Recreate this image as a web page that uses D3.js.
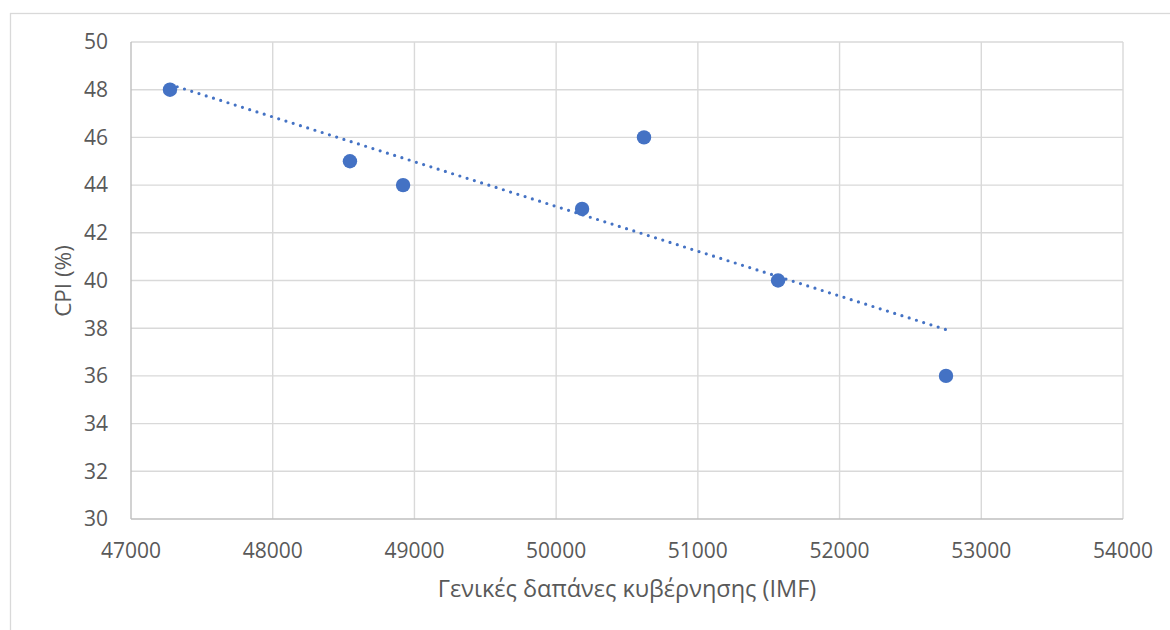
<!DOCTYPE html>
<html>
<head>
<meta charset="utf-8">
<script src="https://cdn.jsdelivr.net/npm/d3@7"></script>
<style>
  body { margin: 0; background: #fff; }
  text { font-family: "Open Sans", sans-serif; fill: #595959; }
</style>
</head>
<body>
<svg id="chart" width="1170" height="630"></svg>
<script>
// government spending (IMF) vs CPI
const spending = [47275, 48545, 48920, 50183, 50620, 51566, 52751];
const cpi = [48, 45, 44, 43, 46, 40, 36];
const xTicks = [47000, 48000, 49000, 50000, 51000, 52000, 53000, 54000];
const yTicks = [30, 32, 34, 36, 38, 40, 42, 44, 46, 48, 50];

const svg = d3.select("#chart");
const plotLeft = 131, plotRight = 1123, plotTop = 42, plotBottom = 519;

// outer chart frame
svg.append("rect")
  .attr("x", 10.5).attr("y", 13.5)
  .attr("width", 1200).attr("height", 700)
  .style("fill", "none").style("stroke", "#d9d9d9").style("stroke-width", 1.3);

const x = d3.scaleLinear().domain([47000, 54000]).range([plotLeft, plotRight]);
const y = d3.scaleLinear().domain([30, 50]).range([plotBottom, plotTop]);

// gridlines
svg.append("g").selectAll("line")
  .data(xTicks.slice(1))
  .enter().append("line")
  .attr("x1", d => x(d)).attr("x2", d => x(d))
  .attr("y1", plotTop).attr("y2", plotBottom)
  .style("stroke", "#d9d9d9").style("stroke-width", 1.4);

svg.append("g").selectAll("line")
  .data(yTicks.slice(1))
  .enter().append("line")
  .attr("x1", plotLeft).attr("x2", plotRight)
  .attr("y1", d => y(d)).attr("y2", d => y(d))
  .style("stroke", "#d9d9d9").style("stroke-width", 1.4);

// axis lines
svg.append("line")
  .attr("x1", plotLeft).attr("x2", plotLeft).attr("y1", plotTop).attr("y2", plotBottom)
  .style("stroke", "#bfbfbf").style("stroke-width", 1.4);
svg.append("line")
  .attr("x1", plotLeft).attr("x2", plotRight).attr("y1", plotBottom).attr("y2", plotBottom)
  .style("stroke", "#bfbfbf").style("stroke-width", 1.4);

// tick labels
svg.append("g").selectAll("text")
  .data(yTicks)
  .enter().append("text")
  .attr("x", 108).attr("y", d => y(d))
  .attr("dy", "0.35em")
  .attr("text-anchor", "end")
  .style("font-size", "21px")
  .text(d => d);

svg.append("g").selectAll("text")
  .data(xTicks)
  .enter().append("text")
  .attr("x", d => x(d)).attr("y", 550.5)
  .attr("dy", "0.35em")
  .attr("text-anchor", "middle")
  .style("font-size", "21px")
  .text(d => d);

// axis titles
svg.append("text")
  .attr("x", 627).attr("y", 597)
  .attr("text-anchor", "middle")
  .style("font-size", "23.5px")
  .text("Γενικές δαπάνες κυβέρνησης (IMF)");

svg.append("text")
  .attr("transform", "translate(63," + 281 + ") rotate(-90)")
  .attr("dy", "0.35em")
  .attr("text-anchor", "middle")
  .style("font-size", "22.5px")
  .text("CPI (%)");

// linear trendline (least squares)
const mx = d3.mean(spending), my = d3.mean(cpi);
const slope = d3.sum(spending, (v, i) => (v - mx) * (cpi[i] - my)) /
  d3.sum(spending, v => (v - mx) * (v - mx));
const fit = v => my + slope * (v - mx);
const ends = d3.extent(spending);

svg.append("path")
  .attr("d", d3.line().x(d => x(d)).y(d => y(fit(d)))(ends))
  .style("fill", "none")
  .style("stroke", "#4472c4")
  .style("stroke-width", 3.2)
  .style("stroke-linecap", "round")
  .style("stroke-dasharray", "0 7.6");

// points
svg.append("g").selectAll("circle")
  .data(spending)
  .enter().append("circle")
  .attr("cx", d => x(d))
  .attr("cy", (d, i) => y(cpi[i]))
  .attr("r", 7.2)
  .style("fill", "#4472c4");
</script>
</body>
</html>
